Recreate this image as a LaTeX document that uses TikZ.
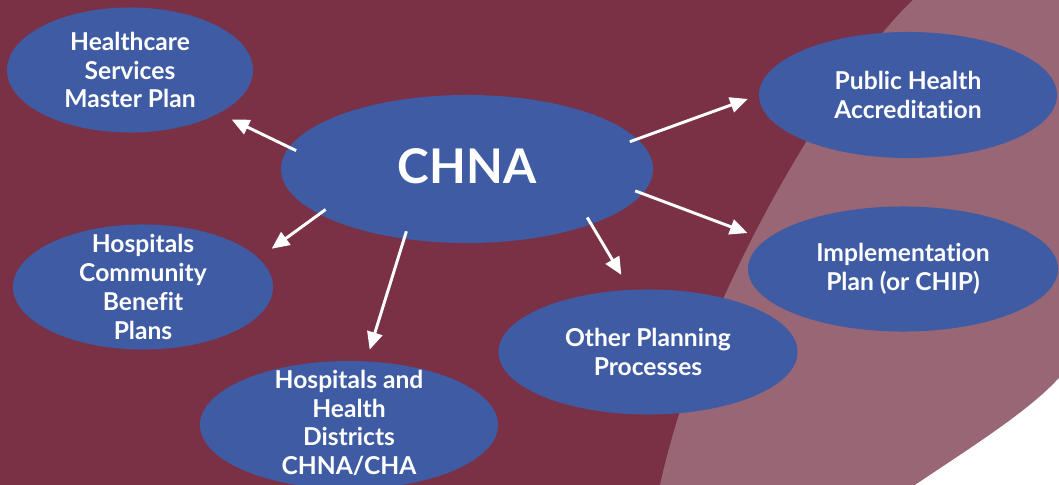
\documentclass[tikz,border=0pt]{standalone}
\usepackage{fontspec}
\setmainfont{Lato}[Ligatures={NoCommon}]
\usetikzlibrary{shapes.geometric,arrows.meta}

\definecolor{wine}{HTML}{7A3145}
\definecolor{rose}{HTML}{986674}
\definecolor{bubble}{HTML}{3E5BA4}

\tikzset{
  bub/.style={ellipse, fill=bubble, inner sep=0pt},
  txt/.style={text=white, align=center, font=\bfseries\fontsize{17.5}{20.5}\selectfont},
  arr/.style={draw=white, line width=2.1pt, shorten <=-0.2cm,
    -{Triangle[length=12.5pt,width=11pt]}}
}

\begin{document}
\begin{tikzpicture}[x=0.025cm, y=-0.025cm]
  \useasboundingbox (0,0) rectangle (1059,485);
  % backdrop
  \fill[wine] (0,0) rectangle (1059,485);
  \fill[rose] (913,0) .. controls (848,60) and (705,280) .. (660,485)
    -- (1059,485) -- (1059,0) -- cycle;
  \fill[white] (915,485) .. controls (975,445) and (1030,410) .. (1059,378)
    -- (1059,485) -- cycle;

  % centre
  \node[bub, minimum width=9.3cm, minimum height=3.7cm] (chna) at (467,169) {};
  \node[txt, font=\bfseries\fontsize{34}{36}\selectfont] (chna-txt) at (467,166) {CHNA};

  % outer ellipses
  \node[bub, minimum width=6.15cm, minimum height=3.125cm] (hsmp) at (130,70) {};
  \node[txt] (hsmp-txt) at (hsmp) {Healthcare\\Services\\Master Plan};

  \node[bub, minimum width=7.45cm, minimum height=3.15cm] (pha) at (908,95) {};
  \node[txt] (pha-txt) at (pha) {Public Health\\Accreditation};

  \node[bub, minimum width=7.75cm, minimum height=3.125cm] (ip) at (903,269) {};
  \node[txt] (ip-txt) at (ip) {Implementation\\Plan (or CHIP)};

  \node[bub, minimum width=7.475cm, minimum height=3.125cm] (opp) at (648,352) {};
  \node[txt] (opp-txt) at (opp) {Other Planning\\Processes};

  \node[bub, minimum width=6.5cm, minimum height=3.125cm] (hcb) at (143,287) {};
  \node[txt] (hcb-txt) at (hcb) {Hospitals\\Community\\Benefit\\Plans};

  \node[bub, minimum width=7.45cm, minimum height=3.2cm] (hhd) at (349,425) {};
  \node[txt] (hhd-txt) at (349,423) {Hospitals and\\Health\\Districts\\CHNA/CHA};

  % arrows
  \path[arr, shorten >=0.35cm](chna.173)to(hsmp.334);
  \path[arr, shorten >=0.29cm](chna.10)to(pha.180);
  \path[arr, shorten >=0.48cm](chna.352)to(ip.168);
  \path[arr, shorten >=0.43cm](chna.336)to(opp.106);
  \path[arr, shorten >=0.3cm](chna.228)to(hhd.75);
  \path[arr, shorten >=0.4cm](chna.197)to(hcb.14);
\end{tikzpicture}
\end{document}
